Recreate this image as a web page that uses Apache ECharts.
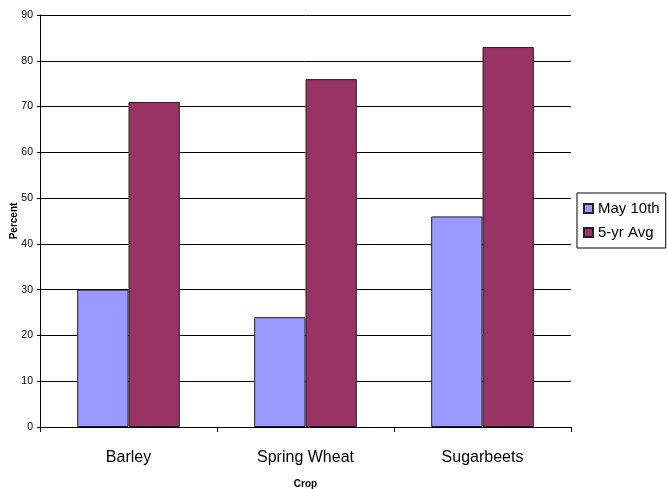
<!DOCTYPE html>
<html>
<head>
<meta charset="utf-8">
<script src="https://cdn.jsdelivr.net/npm/echarts@6/dist/echarts.min.js"></script>
<style>
html,body{margin:0;padding:0;background:#fff;}
#chart{width:667px;height:489px;}
</style>
</head>
<body>
<div id="chart"></div>
<script>
const categories = ['Barley', 'Spring Wheat', 'Sugarbeets'];
const may10th = [30, 24, 46];
const fiveYrAvg = [71, 76, 83];
const seriesNames = ['May 10th', '5-yr Avg'];

const font = 'Liberation Sans, Arial, sans-serif';
const chart = echarts.init(document.getElementById('chart'), null, {renderer: 'canvas'});
chart.setOption({
  animation: false,
  backgroundColor: '#fff',
  grid: {left: 40, right: 96, top: 15, bottom: 62, containLabel: false, outerBoundsMode: 'none'},
  legend: {
    orient: 'vertical',
    left: 577, top: 193,
    padding: [7, 6, 7, 6],
    itemGap: 7,
    itemWidth: 9, itemHeight: 9,
    icon: 'rect',
    borderColor: '#000', borderWidth: 1,
    textStyle: {fontFamily: font, fontSize: 15, color: '#000', lineHeight: 17},
    data: seriesNames
  },
  xAxis: {
    type: 'category',
    data: categories,
    name: 'Crop',
    nameLocation: 'middle',
    nameGap: 52,
    nameMoveOverlap: false,
    nameTextStyle: {fontFamily: font, fontSize: 10, fontWeight: 'bold', color: '#000'},
    axisLine: {lineStyle: {color: '#000', width: 1}},
    axisTick: {show: true, length: 5, lineStyle: {color: '#000'}},
    axisLabel: {fontFamily: font, fontSize: 16, color: '#000', margin: 23},
    splitLine: {show: false}
  },
  yAxis: {
    type: 'value',
    min: 0, max: 90, interval: 10,
    name: 'Percent',
    nameLocation: 'middle',
    nameGap: 21,
    nameMoveOverlap: false,
    nameRotate: 90,
    nameTextStyle: {fontFamily: font, fontSize: 10, fontWeight: 'bold', color: '#000'},
    axisLine: {show: true, lineStyle: {color: '#000', width: 1}},
    axisTick: {show: true, length: 3, lineStyle: {color: '#000'}},
    axisLabel: {fontFamily: font, fontSize: 10.5, color: '#000', margin: 7},
    splitLine: {show: true, lineStyle: {color: '#000', width: 1}}
  },
  series: [
    {
      name: seriesNames[0], type: 'bar', data: may10th,
      barGap: '0%', barCategoryGap: '42%',
      itemStyle: {color: '#9999FF', borderColor: '#222', borderWidth: 1}
    },
    {
      name: seriesNames[1], type: 'bar', data: fiveYrAvg,
      barGap: '0%', barCategoryGap: '42%',
      itemStyle: {color: '#993366', borderColor: '#222', borderWidth: 1}
    }
  ]
});
</script>
</body>
</html>
